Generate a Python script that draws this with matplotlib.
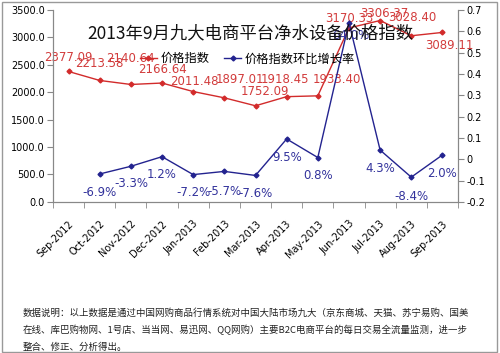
import matplotlib
matplotlib.use("Agg")
import matplotlib.pyplot as plt
from matplotlib.patches import Rectangle
from matplotlib.ticker import FixedLocator, FuncFormatter

plt.rcParams['font.family'] = ['Noto Sans CJK SC', 'DejaVu Sans']

months = ["Sep-2012", "Oct-2012", "Nov-2012", "Dec-2012", "Jan-2013", "Feb-2013",
          "Mar-2013", "Apr-2013", "May-2013", "Jun-2013", "Jul-2013", "Aug-2013", "Sep-2013"]
price_index = [2377.09, 2213.58, 2140.64, 2166.64, 2011.48, 1897.01, 1752.09,
               1918.45, 1933.40, 3170.33, 3306.37, 3028.40, 3089.11]
growth = [None, -0.069, -0.033, 0.012, -0.072, -0.057, -0.076,
          0.095, 0.008, 0.640, 0.043, -0.084, 0.020]
growth_labels = ["", "-6.9%", "-3.3%", "1.2%", "-7.2%", "-5.7%", "-7.6%",
                 "9.5%", "0.8%", "64.0%", "4.3%", "-8.4%", "2.0%"]

RED = "#d22b2b"
BLUE = "#23238f"
LRED = "#d23c3c"
LBLUE = "#33339c"

fig = plt.figure(figsize=(5.0, 3.53), dpi=100)
fig.patch.set_facecolor("white")
ax = fig.add_axes([0.106, 0.428, 0.81, 0.544])
ax2 = ax.twinx()

x = list(range(len(months)))
ax.plot(x, price_index, color=RED, lw=1.0, marker="D", ms=2.5, label="价格指数", zorder=3)
gx = [i for i, g in zip(x, growth) if g is not None]
gy = [g for g in growth if g is not None]
ax2.plot(gx, gy, color=BLUE, lw=1.0, marker="D", ms=2.5, label="价格指数环比增长率", zorder=3)

ax.set_xlim(-0.5, len(months) - 0.5)
ax.set_ylim(0, 3500)
ax2.set_ylim(-0.2, 0.7)
ax.set_yticks([0, 500, 1000, 1500, 2000, 2500, 3000, 3500])
ax.yaxis.set_major_formatter(FuncFormatter(lambda v, p: f"{v:.1f}"))
ax2.set_yticks([-0.2, -0.1, 0, 0.1, 0.2, 0.3, 0.4, 0.5, 0.6, 0.7])
ax2.yaxis.set_major_formatter(FuncFormatter(lambda v, p: "0" if abs(v) < 1e-9 else f"{v:.1f}"))

ax.set_xticks(x)
ax.set_xticklabels(months, rotation=45, ha="right", rotation_mode="anchor", fontsize=7,
                   family=['DejaVu Sans'])
ax.tick_params(axis="x", length=0, pad=12)
ax.xaxis.set_minor_locator(FixedLocator([i - 0.5 for i in range(len(months) + 1)]))
ax.tick_params(axis="x", which="minor", length=4, color="#888888", direction="out")
ax.tick_params(axis="y", labelsize=7, length=4, color="#888888", direction="out", pad=2)
ax2.tick_params(axis="y", labelsize=7, length=4, color="#888888", direction="out", pad=2)
for lab in ax.get_yticklabels() + ax2.get_yticklabels():
    lab.set_family(['DejaVu Sans'])

for a in (ax, ax2):
    a.spines["top"].set_visible(False)
    for s in ("left", "right", "bottom"):
        a.spines[s].set_color("#888888")
        a.spines[s].set_linewidth(0.8)

# price labels (offsets in points)
poff = [(0, 10), (0, 12), (0, 19), (0, 10), (0.7, 7), (11.5, 13), (6.5, 10),
        (-1.5, 12), (13.5, 12), (0, 7), (3, 5), (0.7, 13), (5, -9.4)]
for i, (v, off) in enumerate(zip(price_index, poff)):
    ax.annotate(f"{v:.2f}", (i, v), xytext=off, textcoords="offset points",
                ha="center", va="center", color=LRED, fontsize=8.5,
                family=['DejaVu Sans'], zorder=4)

goff = [None, (0, -13.7), (0, -12.2), (0, -13), (0, -13), (0, -14.4), (0, -13),
        (0, -13), (0, -13), (1, -9), (0, -13.5), (0, -13.7), (0, -13)]
for i, (g, lab, off) in enumerate(zip(growth, growth_labels, goff)):
    if g is None:
        continue
    ax2.annotate(lab, (i, g), xytext=off, textcoords="offset points",
                 ha="center", va="center", color=LBLUE, fontsize=8.5,
                 family=['DejaVu Sans'], zorder=4)

fig.text(0.5, 0.905, "2013年9月九大电商平台净水设备价格指数", ha="center", va="center",
         fontsize=12.5, color="#111111", zorder=5)

h1, l1 = ax.get_legend_handles_labels()
h2, l2 = ax2.get_legend_handles_labels()
ax2.legend(h1 + h2, l1 + l2, ncol=2, loc="center", bbox_to_anchor=(0.48, 0.745),
           frameon=False, fontsize=8.8, handlelength=1.4, columnspacing=1.2,
           handletextpad=0.3, borderpad=0.1)

notes = ["数据说明：以上数据是通过中国网购商品行情系统对中国大陆市场九大（京东商城、天猫、苏宁易购、国美",
         "在线、库巴购物网、1号店、当当网、易迅网、QQ网购）主要B2C电商平台的每日交易全流量监测，进一步",
         "整合、修正、分析得出。"]
for k, line in enumerate(notes):
    fig.text(0.046, 1 - (313 + 17 * k) / 353, line, ha="left", va="center",
             fontsize=6.8, color="#222222")

fig.patches.append(Rectangle((0.004, 0.003), 0.99, 0.992, transform=fig.transFigure,
                             fill=False, edgecolor="#999999", lw=1.0))

fig.savefig("out.png", dpi=100, facecolor="white")
